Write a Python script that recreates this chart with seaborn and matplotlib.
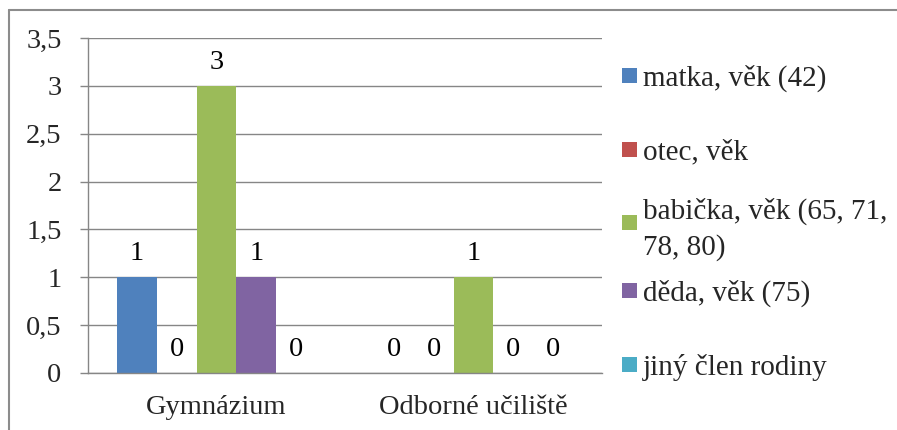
import pandas as pd
import seaborn as sns
import matplotlib.pyplot as plt
from matplotlib.patches import Rectangle
from matplotlib.lines import Line2D

# Data
schools = ["Gymnázium", "Odborné učiliště"]
members = ["matka, věk (42)", "otec, věk", "babička, věk (65, 71,\n78, 80)",
           "děda, věk (75)", "jiný člen rodiny"]
gymnazium = [1, 0, 3, 1, 0]
uciliste = [0, 0, 1, 0, 0]
colors = ["#4F81BD", "#C0504D", "#9BBB59", "#8064A2", "#4BACC6"]
y_ticks = [0, 0.5, 1, 1.5, 2, 2.5, 3, 3.5]
y_tick_labels = ["0", "0,5", "1", "1,5", "2", "2,5", "3", "3,5"]

rows = []
for school, vals in zip(schools, [gymnazium, uciliste]):
    for member, v in zip(members, vals):
        rows.append({"škola": school, "člen": member, "počet": v})
df = pd.DataFrame(rows)

sns.set_style("white")
plt.rcParams["font.family"] = ["Liberation Serif", "DejaVu Serif"]
FS = 20.5
FS_LEG = 21
GRID = "#868686"

W, H = 897, 430
fig = plt.figure(figsize=(W / 100, H / 100), dpi=100)
ax = fig.add_axes([88 / W, 1 - 373 / H, (602 - 88) / W, (373 - 38) / H])

sns.barplot(data=df, x="škola", y="počet", hue="člen", hue_order=members,
            order=schools, palette=colors, saturation=1, width=0.775,
            linewidth=0, legend=False, ax=ax)

for cont in ax.containers:
    ax.bar_label(cont, fmt="%g", padding=8, fontsize=FS, color="black")

ax.set_xlim(-0.5, 1.5)
ax.set_ylim(0, 3.5)
ax.set_yticks(y_ticks)
ax.set_yticklabels(y_tick_labels)
ax.set_xlabel("")
ax.set_ylabel("")

# x ticks at category boundaries, labels centred in each category
ax.set_xticks([-0.5, 0.5, 1.5])
ax.set_xticklabels([])
ax.set_xticks([0, 1], minor=True)
ax.set_xticklabels(schools, minor=True)
ax.tick_params(axis="x", which="minor", length=0, pad=16, labelsize=FS)
ax.tick_params(axis="x", which="major", length=6.5, width=1, color=GRID,
               direction="out")
ax.tick_params(axis="y", length=6, width=1, color=GRID, pad=13,
               labelsize=FS, direction="out", left=True)

ax.yaxis.grid(True, color=GRID, linewidth=1)
ax.set_axisbelow(True)
for side in ["top", "right"]:
    ax.spines[side].set_visible(False)
for side in ["left", "bottom"]:
    ax.spines[side].set_color(GRID)
    ax.spines[side].set_linewidth(1)

# Legend
legend_y = [75.5, 149, 222, 290, 364.5]
for label, c, yc in zip(members, colors, legend_y):
    fig.add_artist(Rectangle((622 / W, 1 - (yc + 7.5) / H), 15 / W, 15 / H,
                             transform=fig.transFigure, facecolor=c,
                             edgecolor="none"))
    fig.text(643 / W, 1 - yc / H, label, ha="left", va="center_baseline",
             fontsize=FS_LEG, linespacing=1.4)

# Chart area border
fig.add_artist(Line2D([9 / W, 1], [1 - 10 / H, 1 - 10 / H],
                      transform=fig.transFigure, color="#8c8c8c", lw=1.5))
fig.add_artist(Line2D([9 / W, 9 / W], [0, 1 - 10 / H],
                      transform=fig.transFigure, color="#8c8c8c", lw=1.5))

fig.savefig("out.png", dpi=100)
